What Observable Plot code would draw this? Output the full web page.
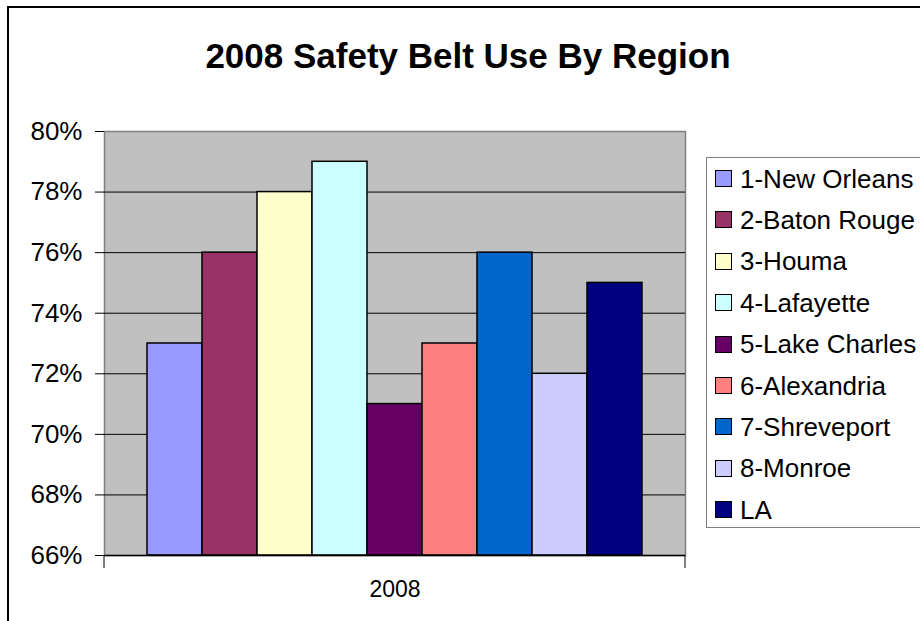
<!DOCTYPE html>
<html>
<head>
<meta charset="utf-8">
<script src="https://cdn.jsdelivr.net/npm/d3@7"></script>
<script src="https://cdn.jsdelivr.net/npm/@observablehq/plot@0.6"></script>
<style>
  html, body { margin: 0; padding: 0; background: #fff; }
  #wrap { position: relative; width: 920px; height: 621px; overflow: hidden; font-family: "Liberation Sans", Arial, sans-serif; }
  #border { position: absolute; left: 7px; top: 6px; width: 1000px; height: 1000px; border-left: 2px solid #000; border-top: 2px solid #000; box-sizing: border-box; }
  #title { position: absolute; left: 468px; top: 38px; transform: translateX(-50%); font-weight: bold; font-size: 35px; line-height: 35px; white-space: nowrap; color: #000; }
  #chart { position: absolute; left: 0; top: 0; }
  #legend { position: absolute; left: 706px; top: 157px; width: 260px; height: 371px; border: 1.5px solid #808080; box-sizing: border-box; background: #fff; }
  .row { position: absolute; left: 0; height: 30px; display: flex; align-items: center; white-space: nowrap; }
  .sw { width: 17px; height: 17px; border: 1.5px solid #000; box-sizing: border-box; margin-left: 8px; margin-right: 8px; }
  .lab { font-size: 26px; line-height: 26px; color: #000; }
</style>
</head>
<body>
<div id="wrap">
  <div id="border"></div>
  <div id="chart"></div>
  <div id="title"></div>
  <div id="legend"></div>
</div>
<script>
const chartTitle = "2008 Safety Belt Use By Region";
const category = "2008";
const regions = ["1-New Orleans", "2-Baton Rouge", "3-Houma", "4-Lafayette", "5-Lake Charles", "6-Alexandria", "7-Shreveport", "8-Monroe", "LA"];
const values = [0.73, 0.76, 0.78, 0.79, 0.71, 0.73, 0.76, 0.72, 0.75];
const colors = ["#9999FF", "#993366", "#FFFFCC", "#CCFFFF", "#660066", "#FF8080", "#0066CC", "#CCCCFF", "#000080"];
const yTicks = [0.66, 0.68, 0.70, 0.72, 0.74, 0.76, 0.78, 0.80];
const yDomain = [0.66, 0.80];

const data = regions.map((r, i) => ({region: r, value: values[i]}));

const W = 920, H = 621;
const mL = 104, mR = 235, mT = 131, mB = 66;

const plot = Plot.plot({
  width: W, height: H,
  marginTop: mT, marginBottom: mB, marginLeft: mL, marginRight: mR,
  style: {fontFamily: "'Liberation Sans', Arial, sans-serif", background: "transparent", color: "#000"},
  x: {domain: regions, paddingInner: 0, paddingOuter: 0.74, axis: null},
  y: {domain: yDomain},
  color: {domain: regions, range: colors},
  marks: [
    Plot.frame({fill: "#C0C0C0", stroke: "#808080", strokeWidth: 1.5}),
    Plot.ruleY(yTicks.slice(1, -1), {stroke: "#000", strokeWidth: 1}),
    Plot.barY(data, {x: "region", y1: yDomain[0], y2: "value", fill: "region", stroke: "#000", strokeWidth: 1.5}),
    Plot.ruleY([yDomain[0]], {stroke: "#000", strokeWidth: 1.5}),
    Plot.axisY({ticks: yTicks, tickFormat: d3.format(".0%"), tickSize: 9, tickPadding: 13, fontSize: 26, label: null, stroke: "#000", fill: "#000"}),
    Plot.text([category], {frameAnchor: "bottom", dy: 41, fontSize: 23, fill: "#000"})
  ]
});

// x-axis edge tick marks
const svgns = "http://www.w3.org/2000/svg";
for (const xe of [mL, W - mR]) {
  const ln = document.createElementNS(svgns, "line");
  ln.setAttribute("x1", xe); ln.setAttribute("x2", xe);
  ln.setAttribute("y1", H - mB); ln.setAttribute("y2", H - mB + 13);
  ln.setAttribute("stroke", "#000"); ln.setAttribute("stroke-width", 1);
  plot.appendChild(ln);
}
document.getElementById("chart").appendChild(plot);
document.getElementById("title").textContent = chartTitle;

const legend = document.getElementById("legend");
regions.forEach((r, i) => {
  const row = document.createElement("div");
  row.className = "row";
  row.style.top = (22 - 1.5 - 15 + i * 41.4) + "px";
  const sw = document.createElement("div");
  sw.className = "sw";
  sw.style.background = colors[i];
  const lab = document.createElement("span");
  lab.className = "lab";
  lab.textContent = r;
  row.appendChild(sw); row.appendChild(lab);
  legend.appendChild(row);
});
</script>
</body>
</html>
